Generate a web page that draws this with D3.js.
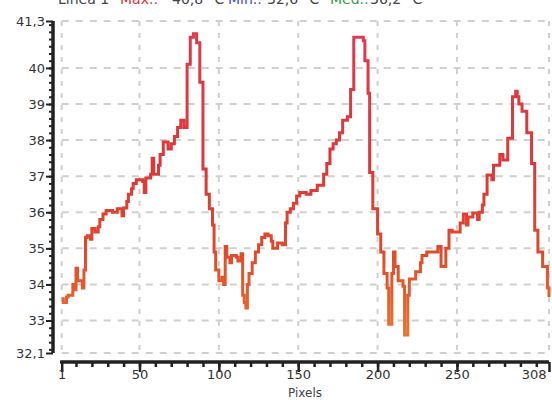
<!DOCTYPE html>
<html>
<head>
<meta charset="utf-8">
<script src="https://cdn.jsdelivr.net/npm/d3@7/dist/d3.min.js"></script>
<style>
body { margin: 0; background: #fff; }
svg { display: block; font-family: "DejaVu Sans", sans-serif; }
</style>
</head>
<body>
<script>
// step breakpoints: pixel index -> temperature (holds until next index)
var pixelIdx = [1,2,4,5,8,9,10,11,14,15,16,17,19,20,22,24,25,27,29,33,36,39,40,42,43,45,46,48,52,53,54,57,58,59,62,63,65,68,70,72,74,76,78,80,82,84,86,88,90,92,94,96,97,98,100,102,103,104,105,107,108,111,112,114,115,116,117,118,119,121,123,125,127,129,131,133,134,137,140,142,143,145,147,149,151,155,158,162,166,168,170,172,174,176,178,181,183,185,191,192,194,195,197,200,202,204,206,207,209,210,211,213,216,217,219,220,224,227,228,231,238,240,243,245,247,252,254,256,257,260,263,264,266,267,269,272,273,277,279,282,285,287,288,289,291,294,297,299,301,304,307,308];
var temps = [33.6,33.5,33.65,33.7,34.0,33.85,34.45,34.1,33.9,34.4,35.3,35.35,35.25,35.55,35.45,35.6,35.8,35.95,36.05,36.0,36.1,35.9,36.12,36.3,36.5,36.65,36.8,36.9,36.85,36.55,36.95,37.05,37.5,37.05,37.3,37.6,37.95,37.75,37.9,38.1,38.35,38.55,38.35,40.1,40.85,40.95,40.7,39.6,37.2,36.5,36.1,35.65,34.9,34.4,34.1,34.2,34.0,35.05,34.75,34.6,34.8,34.75,34.65,34.85,33.7,33.5,33.35,34.0,34.3,34.6,34.9,35.1,35.3,35.4,35.35,35.2,35.0,35.15,35.1,35.7,36.0,36.1,36.25,36.45,36.55,36.5,36.6,36.75,37.05,37.35,37.75,37.9,38.0,38.2,38.55,38.65,39.4,40.85,40.75,40.2,39.3,37.1,36.1,35.4,34.9,34.3,33.9,32.9,34.3,34.9,34.5,34.1,33.95,32.6,33.7,34.15,34.35,34.6,34.8,34.9,35.05,34.5,35.0,35.5,35.45,35.7,35.95,35.65,35.87,35.98,35.8,36.0,36.2,36.5,37.03,36.9,37.3,37.6,37.45,38.05,39.2,39.35,39.2,39.0,38.8,38.2,37.35,35.5,34.9,34.5,33.9,33.65];

var xTickVals = [1, 50, 100, 150, 200, 250, 308];
var yTickVals = [41.3, 40, 39, 38, 37, 36, 35, 34, 33, 32.1];

var header = [
    {t: "Linea 1", c: "#444", x: 58},
    {t: "Max.:", c: "#e03030", x: 120},
    {t: "40,8 °C", c: "#444", x: 172},
    {t: "Min.:", c: "#4848d0", x: 228},
    {t: "32,6 °C", c: "#444", x: 267},
    {t: "Med.:", c: "#30a040", x: 330},
    {t: "36,2 °C", c: "#444", x: 370}
];

var width = 552, height = 400;
var fmt = function(d) { return (Math.round(d) === d ? d : d.toFixed(1)).toString().replace(".", ","); };

var x = d3.scaleLinear().domain([1, 308]).range([61.7, 549]);
var y = d3.scaleLinear().domain([32.1, 41.3]).range([353, 21]);

var svg = d3.select("body").append("svg")
    .attr("width", width)
    .attr("height", height);

// colour gradient by value
var defs = svg.append("defs");
var grad = defs.append("linearGradient")
    .attr("id", "lineGrad")
    .attr("gradientUnits", "userSpaceOnUse")
    .attr("x1", 0).attr("x2", 0)
    .attr("y1", y(41.3)).attr("y2", y(32.1));
grad.append("stop").attr("offset", "0%").attr("stop-color", "#e03a4e");
grad.append("stop").attr("offset", "45%").attr("stop-color", "#dd3836");
grad.append("stop").attr("offset", "70%").attr("stop-color", "#e04a2a");
grad.append("stop").attr("offset", "100%").attr("stop-color", "#ec7a30");

// grid
var grid = svg.append("g").attr("stroke", "#d0d0d0").attr("stroke-width", 2);
grid.selectAll("line.h").data(yTickVals).enter().append("line")
    .attr("class", "h")
    .attr("x1", x(1)).attr("x2", x(308))
    .attr("y1", function(d) { return y(d); })
    .attr("y2", function(d) { return y(d); })
    .attr("stroke-dasharray", "7,7");
grid.selectAll("line.v").data(xTickVals).enter().append("line")
    .attr("class", "v")
    .attr("x1", function(d) { return x(d); })
    .attr("x2", function(d) { return x(d); })
    .attr("y1", y(41.3)).attr("y2", y(32.1))
    .attr("stroke-dasharray", "5,7");

// header (clipped at top as in the original)
svg.append("g").selectAll("text").data(header).enter().append("text")
    .attr("x", function(d) { return d.x; })
    .attr("y", 4)
    .attr("font-size", 14)
    .attr("fill", function(d) { return d.c; })
    .text(function(d) { return d.t; });

// y axis
var yMinor = d3.range(32.2, 41.3, 0.2);
var yAxis = d3.axisLeft(y).tickValues(yMinor).tickSize(4).tickFormat("");
var ya = svg.append("g").attr("transform", "translate(53,0)").call(yAxis);
var yAxisMaj = d3.axisLeft(y).tickValues(yTickVals).tickSize(7).tickFormat(fmt);
var yb = svg.append("g").attr("transform", "translate(53,0)").call(yAxisMaj);
[ya, yb].forEach(function(g) {
    g.select(".domain").attr("stroke", "#222").attr("stroke-width", 3).attr("d", "M0," + y(41.3) + "V" + y(32.1));
    g.selectAll(".tick line").attr("stroke", "#222").attr("stroke-width", 2);
});
yb.selectAll(".tick text").attr("font-size", 13).attr("fill", "#333").attr("x", -8)
    .attr("font-family", "DejaVu Sans, sans-serif");

// x axis
var xMinor = d3.range(10, 301, 10);
var xa = svg.append("g").attr("transform", "translate(0,362)")
    .call(d3.axisBottom(x).tickValues(xMinor).tickSize(5).tickFormat(""));
var xb = svg.append("g").attr("transform", "translate(0,362)")
    .call(d3.axisBottom(x).tickValues(xTickVals).tickSize(10).tickFormat(d3.format("d")));
[xa, xb].forEach(function(g) {
    g.select(".domain").attr("stroke", "#222").attr("stroke-width", 3).attr("d", "M" + (x(1) - 1.5) + ",0H" + x(308));
    g.selectAll(".tick line").attr("stroke", "#222").attr("stroke-width", 2.5);
});
xb.selectAll(".tick text").attr("font-size", 13).attr("fill", "#333").attr("y", 8)
    .attr("font-family", "DejaVu Sans, sans-serif");
xb.selectAll(".tick").filter(function(d) { return d === 308; })
    .select("text").attr("text-anchor", "end").attr("dx", -3);

svg.append("text")
    .attr("x", 305).attr("y", 397)
    .attr("text-anchor", "middle")
    .attr("font-size", 12)
    .attr("fill", "#444")
    .text("Pixels");

// the data line
var pts = pixelIdx.map(function(v, i) { return [v, temps[i]]; });
var line = d3.line()
    .x(function(d) { return x(d[0]); })
    .y(function(d) { return y(d[1]); })
    .curve(d3.curveStepAfter);

svg.append("path")
    .datum(pts)
    .attr("fill", "none")
    .attr("stroke", "url(#lineGrad)")
    .attr("stroke-width", 3)
    .attr("d", line);
</script>
</body>
</html>
